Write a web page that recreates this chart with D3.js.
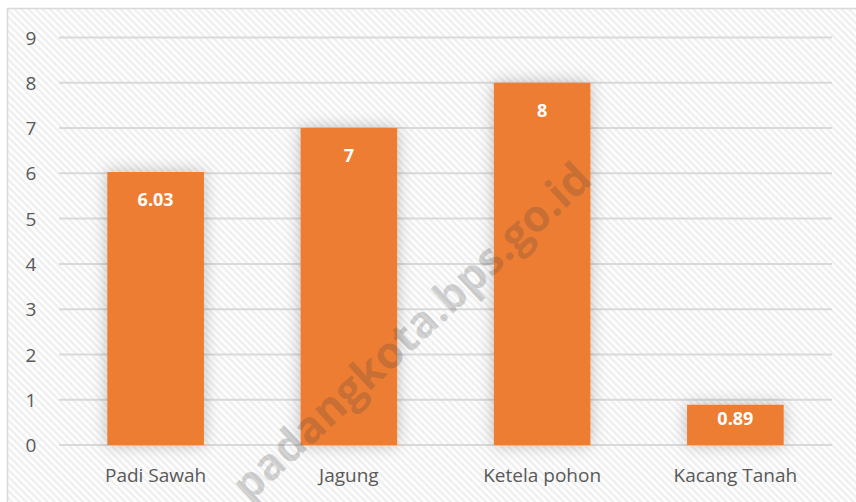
<!DOCTYPE html>
<html>
<head>
<script src="https://cdnjs.cloudflare.com/ajax/libs/d3/7.8.5/d3.min.js"></script>
<style>
  body { margin: 0; background: #fff; }
  text { font-family: "Open Sans", "Noto Sans", sans-serif; }
</style>
</head>
<body>
<div id="chart"></div>
<script>
var categories = ["Padi Sawah", "Jagung", "Ketela pohon", "Kacang Tanah"];
var values = [6.03, 7, 8, 0.89];
var valueLabels = ["6.03", "7", "8", "0.89"];
var yTicks = [0, 1, 2, 3, 4, 5, 6, 7, 8, 9];

var W = 856, H = 502;
var plotLeft = 59, plotRight = 832, plotTop = 37.5, plotBottom = 445;

var svg = d3.select("#chart").append("svg")
    .attr("width", W).attr("height", H);

var defs = svg.append("defs");
var pat = defs.append("pattern")
    .attr("id", "hatch")
    .attr("patternUnits", "userSpaceOnUse")
    .attr("width", 5).attr("height", 5)
    .attr("patternTransform", "rotate(-45)");
pat.append("rect").attr("width", 5).attr("height", 5).attr("fill", "#efefef");
pat.append("rect").attr("width", 2.5).attr("height", 5).attr("fill", "#ffffff");

var shadow = defs.append("filter").attr("id", "shadow")
    .attr("x", "-40%").attr("y", "-40%").attr("width", "180%").attr("height", "180%");
shadow.append("feDropShadow")
    .attr("dx", 0).attr("dy", 0).attr("stdDeviation", 8)
    .attr("flood-color", "#000").attr("flood-opacity", 0.25);

// chart area with hatch
svg.append("rect")
    .attr("x", 7.5).attr("y", 8.5)
    .attr("width", 860).attr("height", 500)
    .attr("fill", "url(#hatch)")
    .attr("stroke", "#d9d9d9").attr("stroke-width", 1.5);

var x = d3.scaleBand().domain(categories).range([plotLeft, plotRight]).paddingInner(0.5).paddingOuter(0.25);
var y = d3.scaleLinear().domain([0, 9]).range([plotBottom, plotTop]);

// gridlines
svg.append("g").selectAll("line").data(yTicks).join("line")
    .attr("x1", plotLeft).attr("x2", plotRight)
    .attr("y1", function(d){ return y(d); })
    .attr("y2", function(d){ return y(d); })
    .attr("stroke", "#d9d9d9").attr("stroke-width", 2);

// y axis labels
var yAxis = d3.axisLeft(y).tickValues(yTicks).tickSize(0).tickPadding(0);
var gy = svg.append("g").attr("transform", "translate(31,0)").call(yAxis);
gy.select(".domain").remove();
gy.selectAll("text")
    .attr("text-anchor", "middle")
    .attr("dy", "0.35em")
    .style("font-size", "19px")
    .style("fill", "#595959");

// bars
svg.append("g").selectAll("rect").data(values).join("rect")
    .attr("x", function(d, i){ return x(categories[i]); })
    .attr("y", function(d){ return y(d); })
    .attr("width", x.bandwidth())
    .attr("height", function(d){ return y(0) - y(d); })
    .attr("fill", "#ed7d31")
    .attr("filter", "url(#shadow)");

// value labels, inside end
svg.append("g").selectAll("text").data(values).join("text")
    .attr("x", function(d, i){ return x(categories[i]) + x.bandwidth() / 2; })
    .attr("y", function(d){
        var h = y(0) - y(d);
        return y(d) + Math.min(28, h / 2 - 6);
    })
    .attr("dy", "0.35em")
    .attr("text-anchor", "middle")
    .style("font-size", "18px")
    .style("font-weight", "bold")
    .style("fill", "#ffffff")
    .text(function(d, i){ return valueLabels[i]; });

// x axis labels
var xAxis = d3.axisBottom(x).tickSize(0).tickPadding(0);
var gx = svg.append("g").attr("transform", "translate(0,475)").call(xAxis);
gx.select(".domain").remove();
gx.selectAll("text")
    .attr("dy", "0.35em")
    .style("font-size", "19px")
    .style("fill", "#595959");

// watermark
svg.append("text")
    .attr("transform", "translate(594,182) rotate(-43)")
    .attr("text-anchor", "end")
    .style("font-size", "44px")
    .style("font-weight", "bold")
    .style("fill", "#404040")
    .style("fill-opacity", 0.22)
    .text("padangkota.bps.go.id");
</script>
</body>
</html>
